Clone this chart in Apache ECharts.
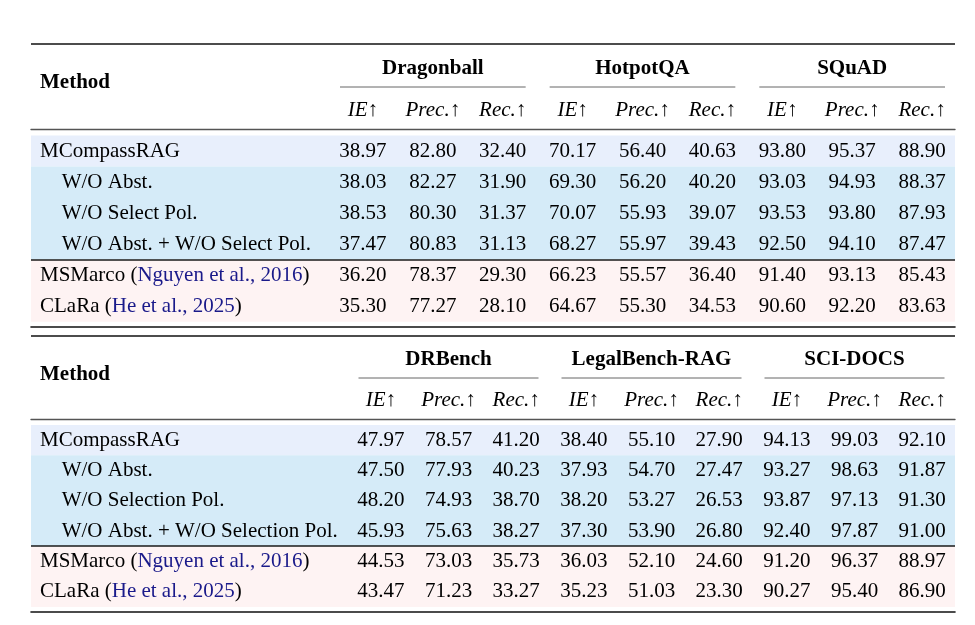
<!DOCTYPE html>
<html>
<head>
<meta charset="utf-8">
<script src="https://cdn.jsdelivr.net/npm/echarts@6/dist/echarts.min.js"></script>
<style>html,body{margin:0;padding:0;background:#fff}#c{width:975px;height:625px}</style>
</head>
<body>
<div id="c"></div>
<script>
// ---------- data ----------
const subCols = ['IE', 'Prec.', 'Rec.', 'IE', 'Prec.', 'Rec.', 'IE', 'Prec.', 'Rec.'];

const groups1 = ['Dragonball', 'HotpotQA', 'SQuAD'];
const methods1 = ['MCompassRAG', 'W/O Abst.', 'W/O Select Pol.', 'W/O Abst. + W/O Select Pol.', 'MSMarco', 'CLaRa'];
const indent1 = [false, true, true, true, false, false];
const cite1 = ['', '', '', '', 'Nguyen et al., 2016', 'He et al., 2025'];
const values1 = [
  [38.97, 82.80, 32.40, 70.17, 56.40, 40.63, 93.80, 95.37, 88.90],
  [38.03, 82.27, 31.90, 69.30, 56.20, 40.20, 93.03, 94.93, 88.37],
  [38.53, 80.30, 31.37, 70.07, 55.93, 39.07, 93.53, 93.80, 87.93],
  [37.47, 80.83, 31.13, 68.27, 55.97, 39.43, 92.50, 94.10, 87.47],
  [36.20, 78.37, 29.30, 66.23, 55.57, 36.40, 91.40, 93.13, 85.43],
  [35.30, 77.27, 28.10, 64.67, 55.30, 34.53, 90.60, 92.20, 83.63]
];

const groups2 = ['DRBench', 'LegalBench-RAG', 'SCI-DOCS'];
const methods2 = ['MCompassRAG', 'W/O Abst.', 'W/O Selection Pol.', 'W/O Abst. + W/O Selection Pol.', 'MSMarco', 'CLaRa'];
const indent2 = [false, true, true, true, false, false];
const cite2 = ['', '', '', '', 'Nguyen et al., 2016', 'He et al., 2025'];
const values2 = [
  [47.97, 78.57, 41.20, 38.40, 55.10, 27.90, 94.13, 99.03, 92.10],
  [47.50, 77.93, 40.23, 37.93, 54.70, 27.47, 93.27, 98.63, 91.87],
  [48.20, 74.93, 38.70, 38.20, 53.27, 26.53, 93.87, 97.13, 91.30],
  [45.93, 75.63, 38.27, 37.30, 53.90, 26.80, 92.40, 97.87, 91.00],
  [44.53, 73.03, 35.73, 36.03, 52.10, 24.60, 91.20, 96.37, 88.97],
  [43.47, 71.23, 33.27, 35.23, 51.03, 23.30, 90.27, 95.40, 86.90]
];

// ---------- style / layout ----------
const FONT = 'Liberation Serif';
const FS = 21;
const TXT = '#000';
const LINK = '#1a1a8a';
const bandColors = ['#e8effc', '#d5ebf8', '#d5ebf8', '#d5ebf8', '#fef3f3', '#fef3f3'];
const SPLIT_ROW = 4; // rule drawn above this row

const tables = [
  { groups: groups1, methods: methods1, indent: indent1, cite: cite1, values: values1,
    top: 135.5, height: 186.3, dataLeft: 328, dataRight: 18,
    subMargin: 25.5, groupMargin: 67.2, methodY: 82.5, underlineY: 87, underInset: 12,
    midOffset: 6.5, botOffset: 5.2, topRuleY: 44 },
  { groups: groups2, methods: methods2, indent: indent2, cite: cite2, values: values2,
    top: 425, height: 182, dataLeft: 347, dataRight: 19,
    subMargin: 24.5, groupMargin: 65.4, methodY: 374.2, underlineY: 378, underInset: 11.5,
    midOffset: 6, botOffset: 5, topRuleY: 336 }
];
const TABLE_LEFT = 31, TABLE_RIGHT = 20;

const grid = [], xAxis = [], yAxis = [], series = [], graphic = [];

tables.forEach((t, ti) => {
  const gFull = grid.length;
  grid.push({ left: TABLE_LEFT, right: TABLE_RIGHT, top: t.top, height: t.height });
  const gData = grid.length;
  grid.push({ left: t.dataLeft, right: t.dataRight, top: t.top, height: t.height });

  // full-width grid: rules + row bands + method labels
  xAxis.push({ gridIndex: gFull, type: 'value', min: 0, max: 1, position: 'top', offset: t.midOffset,
    axisLine: { show: true, lineStyle: { color: '#555', width: 1.4 } },
    axisTick: { show: false }, axisLabel: { show: false }, splitLine: { show: false } });
  xAxis.push({ gridIndex: gFull, type: 'value', min: 0, max: 1, position: 'bottom', offset: t.botOffset,
    axisLine: { show: true, lineStyle: { color: '#111', width: 1.6 } },
    axisTick: { show: false }, axisLabel: { show: false }, splitLine: { show: false } });
  yAxis.push({ gridIndex: gFull, type: 'category', inverse: true, data: t.methods,
    axisLine: { show: false }, axisTick: { show: false },
    splitArea: { show: true, interval: 0, areaStyle: { color: bandColors } },
    splitLine: { show: false },
    axisLabel: {
      inside: true, margin: 9, interval: 0,
      fontFamily: FONT, fontSize: FS, color: TXT,
      formatter: (v, i) => {
        const c = t.cite[i];
        const body = c ? v + ' ({l|' + c + '})' : v;
        return t.indent[i] ? '{ind|' + body + '}' : body;
      },
      rich: {
        ind: { padding: [0, 0, 0, 21.7], fontFamily: FONT, fontSize: FS, color: TXT },
        l: { fontFamily: FONT, fontSize: FS, color: LINK }
      }
    } });

  // data grid
  const xCols = xAxis.length;
  xAxis.push({ gridIndex: gData, type: 'category', data: subCols, position: 'top',
    axisLine: { show: false }, axisTick: { show: false },
    axisLabel: { interval: 0, margin: t.subMargin, verticalAlign: 'middle',
      formatter: (v) => '{i|' + v + '}{a|↑}',
      rich: {
        i: { fontFamily: FONT, fontStyle: 'italic', fontSize: FS, color: TXT },
        a: { fontFamily: FONT, fontSize: FS, color: TXT }
      } } });
  xAxis.push({ gridIndex: gData, type: 'category', data: t.groups, position: 'top',
    axisLine: { show: false }, axisTick: { show: false },
    axisLabel: { interval: 0, margin: t.groupMargin, verticalAlign: 'middle',
      fontFamily: FONT, fontWeight: 'bold', fontSize: FS, color: TXT } });
  const yRows = yAxis.length;
  yAxis.push({ gridIndex: gData, type: 'category', inverse: true, data: t.methods, show: false });

  const cells = [];
  t.values.forEach((row, r) => row.forEach((v, c) => cells.push([c, r, v])));
  series.push({
    type: 'custom', xAxisIndex: xCols, yAxisIndex: yRows, data: cells, silent: true,
    renderItem: (params, api) => {
      const p = api.coord([api.value(0), api.value(1)]);
      return { type: 'text', x: p[0], y: p[1],
        style: { text: api.value(2).toFixed(2), align: 'center', verticalAlign: 'middle',
          fontFamily: FONT, fontSize: FS, fill: TXT } };
    }
  });

  // header decorations and rules
  graphic.push({ type: 'line', z: 100, shape: { x1: TABLE_LEFT, y1: t.topRuleY, x2: 975 - TABLE_RIGHT, y2: t.topRuleY },
    style: { stroke: '#111', lineWidth: 1.6 } });
  const splitY = Math.round(t.top + t.height * SPLIT_ROW / t.methods.length);
  graphic.push({ type: 'line', z: 100, shape: { x1: TABLE_LEFT, y1: splitY, x2: 975 - TABLE_RIGHT, y2: splitY },
    style: { stroke: '#1a1a1a', lineWidth: 1.4 } });
  graphic.push({ type: 'text', x: 40, y: t.methodY,
    style: { text: 'Method', fontFamily: FONT, fontWeight: 'bold', fontSize: FS, fill: TXT, verticalAlign: 'middle' } });
  const dw = 975 - t.dataLeft - t.dataRight;
  t.groups.forEach((g, gi) => {
    const x0 = t.dataLeft + dw * gi / 3 + t.underInset;
    const x1 = t.dataLeft + dw * (gi + 1) / 3 - t.underInset;
    graphic.push({ type: 'line', shape: { x1: x0, y1: t.underlineY, x2: x1, y2: t.underlineY },
      style: { stroke: '#666', lineWidth: 1 } });
  });
});

const chart = echarts.init(document.getElementById('c'), null, { renderer: 'canvas' });
chart.setOption({ animation: false, backgroundColor: '#fff', grid, xAxis, yAxis, series, graphic });
</script>
</body>
</html>
